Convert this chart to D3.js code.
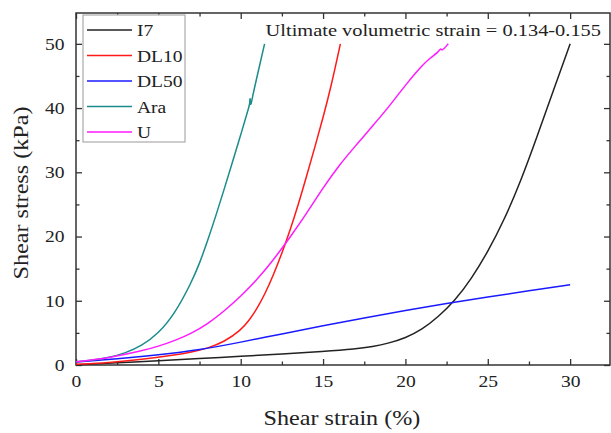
<!DOCTYPE html>
<html>
<head>
<meta charset="utf-8">
<script src="https://cdn.jsdelivr.net/npm/d3@7"></script>
<style>
  body { margin: 0; background: #fff; }
  text { font-family: "Liberation Serif", "Times New Roman", serif; fill: #222; }
</style>
</head>
<body>
<div id="chart"></div>
<script>
// data: [shear strain %, shear stress kPa]
const I7 = [[0,0],[2.5,0.35],[5,0.65],[7.5,1.0],[10,1.35],[12.5,1.7],[15,2.1],[17,2.5],[18,2.85],
  [19,3.4],[20,4.2],[21,5.5],[22,7.5],[23,10.0],[24,13.4],[25,17.6],[26,22.6],[27,28.6],[28,35.6],
  [29,42.9],[30,50]];
const DL10 = [[0,0.1],[2,0.35],[4,0.85],[6,1.55],[7,2.0],[8,2.6],[9,3.6],[10,5.4],[10.5,6.9],[11,8.8],
  [11.5,11.2],[12,14.1],[12.5,17.4],[13,21.0],[13.5,25.0],[14,29.4],[14.5,33.9],[15,38.5],[15.5,43.5],
  [16.05,50]];
const DL50 = [[0,0.45],[2.5,0.95],[5,1.55],[7.5,2.33],[10,3.55],[12.5,4.85],[15,6.1],[17.5,7.35],
  [20,8.5],[22.5,9.6],[25,10.6],[27.5,11.55],[30,12.5]];
const Ara = [[0,0.5],[1,0.75],[2,1.15],[3,1.85],[4,3.0],[5,4.9],[6,8.0],[7,12.8],[7.5,15.8],[8,19.4],
  [8.5,23.3],[9,27.4],[9.5,31.6],[10,35.8],[10.5,40.2],[10.55,40.6],[10.57,42.0],[10.59,40.0],
  [10.7,41.6],[11,45],[11.45,50]];
const U = [[0,0.5],[2,1.1],[4,2.2],[5,2.9],[6,3.8],[7,4.9],[8,6.4],[9,8.4],[10,10.7],[11,13.3],
  [12,16.4],[13,19.9],[14,23.6],[15,27.6],[16,31.2],[17,34.2],[18,37.2],[19,40.2],[20,43.6],
  [21,46.6],[21.5,47.8],[22,48.7],[22.15,49.4],[22.2,48.8],[22.6,50]];

const names = ['I7', 'DL10', 'DL50', 'Ara', 'U'];
const colors = ['#222222', '#ff1a1a', '#1a1aff', '#1a8c8c', '#ff1aff'];
const xTicks = [0, 5, 10, 15, 20, 25, 30];
const yTicks = [0, 10, 20, 30, 40, 50];
const note = 'Ultimate volumetric strain = 0.134-0.155';

const series = [I7, DL10, DL50, Ara, U].map((v, i) => ({name: names[i], color: colors[i], values: v}));

const width = 611, height = 433;
const margin = {top: 13, right: 1, bottom: 68, left: 76};
const sx = 1.15; // the source picture is a bit wide

const svg = d3.select('#chart').append('svg')
    .attr('width', width).attr('height', height);

const x = d3.scaleLinear().domain([0, 32.42]).range([margin.left, width - margin.right]);
const y = d3.scaleLinear().domain([0, 54.8]).range([height - margin.bottom, margin.top]);

const minorX = d3.range(2.5, 32.4, 5);
const minorY = d3.range(5, 54.8, 10);

const axisStyle = g => {
    g.select('.domain').remove();
    g.selectAll('line').attr('stroke', '#333').attr('stroke-width', 1.3);
};

// major + minor ticks on all four sides (inward)
const sides = [
    [d3.axisBottom(x), `translate(0,${y(0)})`, xTicks, minorX, true],
    [d3.axisTop(x), `translate(0,${margin.top})`, xTicks, minorX, false],
    [d3.axisLeft(y), `translate(${margin.left},0)`, yTicks, minorY, true],
    [d3.axisRight(y), `translate(${width - margin.right},0)`, yTicks, minorY, false]
];
sides.forEach(([ax, tr, major, minor, labels]) => {
    svg.append('g').attr('transform', tr)
        .call(ax.tickValues(minor).tickSize(-3.5).tickFormat(''))
        .call(axisStyle);
    const g = svg.append('g').attr('transform', tr)
        .call(ax.tickValues(major).tickSize(-6).tickPadding(labels ? 10 : 0)
            .tickFormat(labels ? d3.format('d') : ''))
        .call(axisStyle);
    g.selectAll('text').attr('fill', '#222').attr('font-size', 17)
        .attr('transform', `scale(${sx},1)`);
});

// frame
svg.append('rect')
    .attr('x', margin.left).attr('y', margin.top)
    .attr('width', width - margin.right - margin.left)
    .attr('height', y(0) - margin.top)
    .attr('fill', 'none').attr('stroke', '#333').attr('stroke-width', 1.5);

// basis keeps the measured curves smooth
const line = d3.line().x(d => x(d[0])).y(d => y(d[1])).curve(d3.curveBasis);

svg.append('g').selectAll('path')
    .data(series)
    .join('path')
    .attr('fill', 'none')
    .attr('stroke', d => d.color)
    .attr('stroke-width', 1.5)
    .attr('d', d => line(d.values));

// legend
const lg = svg.append('g');
lg.append('rect')
    .attr('x', 83).attr('y', 15).attr('width', 102).attr('height', 127)
    .attr('fill', '#fff').attr('stroke', '#aaa').attr('stroke-width', 1.2);
const items = lg.selectAll('g.item')
    .data(series)
    .join('g')
    .attr('class', 'item')
    .attr('transform', (d, i) => `translate(87,${30 + i * 25.5})`);
items.append('line')
    .attr('x1', 0).attr('x2', 45)
    .attr('stroke', d => d.color).attr('stroke-width', 1.5);
items.append('text')
    .attr('transform', `translate(50,6) scale(${sx},1)`)
    .attr('font-size', 17)
    .text(d => d.name);

// annotation
svg.append('text')
    .attr('transform', 'translate(601,36) scale(1.2,1)')
    .attr('text-anchor', 'end')
    .attr('font-size', 17)
    .text(note);

// axis titles
svg.append('text')
    .attr('transform', `translate(342,425) scale(${sx},1)`)
    .attr('text-anchor', 'middle')
    .attr('font-size', 21)
    .text('Shear strain (%)');
svg.append('text')
    .attr('transform', `translate(28,193) rotate(-90) scale(${sx},1)`)
    .attr('text-anchor', 'middle')
    .attr('font-size', 21)
    .text('Shear stress (kPa)');
</script>
</body>
</html>
